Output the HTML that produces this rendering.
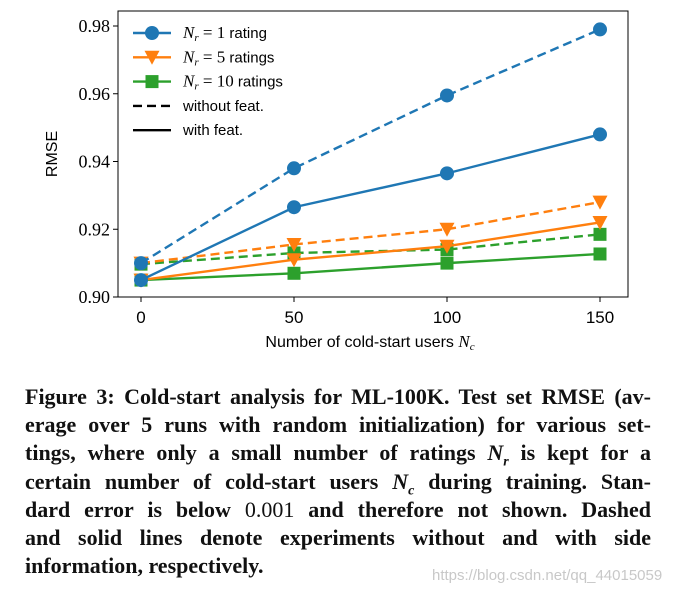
<!DOCTYPE html>
<html><head><meta charset="utf-8"><style>
body{margin:0;background:#fff;width:684px;height:594px;overflow:hidden;position:relative}
.cap{position:absolute;left:25px;width:626px;font:bold 22px "Liberation Serif",serif;color:#111;text-align:justify;text-align-last:justify;white-space:nowrap;line-height:24px}
.cap.last{text-align-last:left}
.wm{position:absolute;left:432px;top:567px;font:15px "Liberation Sans",sans-serif;color:#c8c8c8}
</style></head><body>
<svg width="684" height="380" style="position:absolute;left:0;top:0">
<g id="grid"></g>
<g id="series"></g>
<rect x="118" y="11" width="510" height="286" fill="none" stroke="#000" stroke-width="1"/>
<g id="axes" font-family="Liberation Serif,serif" font-size="18"></g>
<text x="370" y="347" text-anchor="middle" font-family="Liberation Sans,sans-serif" font-size="16">Number of cold-start users <tspan font-family="Liberation Serif,serif" font-style="italic" font-size="17">N</tspan><tspan font-family="Liberation Serif,serif" font-style="italic" font-size="11" dy="3">c</tspan></text>
<text transform="translate(57,154) rotate(-90)" text-anchor="middle" font-family="Liberation Sans,sans-serif" font-size="16">RMSE</text>
<g id="legend" font-family="Liberation Sans,sans-serif" font-size="15"></g>
</svg>
<div class="cap" style="top:385px">Figure 3: Cold-start analysis for ML-100K. Test set RMSE (av-</div>
<div class="cap" style="top:413px">erage over 5 runs with random initialization) for various set-</div>
<div class="cap" style="top:441px">tings, where only a small number of ratings <i>N<sub style="font-size:14px">r</sub></i> is kept for a</div>
<div class="cap" style="top:470px">certain number of cold-start users <i>N<sub style="font-size:14px">c</sub></i> during training. Stan-</div>
<div class="cap" style="top:498px">dard error is below <span style="font-weight:normal">0.001</span> and therefore not shown. Dashed</div>
<div class="cap" style="top:526px">and solid lines denote experiments without and with side</div>
<div class="cap last" style="top:554px">information, respectively.</div>
<div class="wm">https://blog.csdn.net/qq_44015059</div>
<script>
const xCats=[0,50,100,150];
const yTicks=[0.90,0.92,0.94,0.96,0.98];
const yTickLabels=["0.90","0.92","0.94","0.96","0.98"];
const blueDashed=[0.910,0.938,0.9595,0.979];
const blueSolid=[0.905,0.9265,0.9365,0.948];
const orangeDashed=[0.910,0.9155,0.920,0.928];
const orangeSolid=[0.905,0.911,0.915,0.922];
const greenDashed=[0.9097,0.913,0.914,0.9185];
const greenSolid=[0.905,0.907,0.910,0.9127];
const NS="http://www.w3.org/2000/svg";
function X(v){return 141+(v-0)/150*459;}
function Y(v){return 297-(v-0.90)/0.08*271;}
function mk(t,a,p){const e=document.createElementNS(NS,t);for(const k in a)e.setAttribute(k,a[k]);p.appendChild(e);return e;}
const ax=document.getElementById('axes');
xCats.forEach(v=>{
 const l=mk('line',{x1:X(v),x2:X(v),y1:297,y2:302,stroke:'#000'},ax);
 
 
 const t=mk('text',{x:X(v),y:323,'text-anchor':'middle','font-family':'Liberation Sans,sans-serif','font-size':'17'},ax);t.textContent=v;
 
 
});
yTicks.forEach((v,i)=>{
 const l=mk('line',{x1:113,x2:118,y1:Y(v),y2:Y(v),stroke:'#000'},ax);
 
 
 const t=mk('text',{x:110,y:Y(v)+6,'text-anchor':'end'},ax);t.textContent=yTickLabels[i];
 
 
});
const sg=document.getElementById('series');
function marker(shape,x,y,c,p){
 let e;
 if(shape==='o')e=mk('circle',{cx:x,cy:y,r:7,fill:c},p);
 else if(shape==='v')e=mk('path',{d:`M${x-7.5},${y-6.5} L${x+7.5},${y-6.5} L${x},${y+7.5} Z`,fill:c},p);
 else e=mk('rect',{x:x-6.5,y:y-6.5,width:13,height:13,fill:c},p);
 return e;
}
function series(vals,c,shape,dashed,name){
 const g=mk('g',{},sg);
 
 
 const pts=vals.map((v,i)=>X(xCats[i])+','+Y(v)).join(' ');
 mk('polyline',{points:pts,fill:'none',stroke:c,'stroke-width':2.4,'stroke-dasharray':dashed?'9,5':'none'},g);
 vals.forEach((v,i)=>{const m=marker(shape,X(xCats[i]),Y(v),c,g);
  
  });
}
series(greenSolid,'#2ca02c','s',false,'green-solid-series');
series(greenDashed,'#2ca02c','s',true,'green-dashed-series');
series(orangeSolid,'#ff7f0e','v',false,'orange-solid-series');
series(orangeDashed,'#ff7f0e','v',true,'orange-dashed-series');
series(blueSolid,'#1f77b4','o',false,'blue-solid-series');
series(blueDashed,'#1f77b4','o',true,'blue-dashed-series');
const lg=document.getElementById('legend');
const items=[['#1f77b4','o',false,'= 1 rating'],['#ff7f0e','v',false,'= 5 ratings'],['#2ca02c','s',false,'= 10 ratings'],['#000',null,true,'without feat.'],['#000',null,false,'with feat.']];
items.forEach((it,i)=>{
 const y=33+i*24.3;
 const g=mk('g',{},lg);
 
 
 mk('line',{x1:133,x2:171,y1:y,y2:y,stroke:it[0],'stroke-width':2.4,'stroke-dasharray':it[2]?'9,5':'none'},g);
 if(it[1])marker(it[1],152,y,it[0],g);
 const t=mk('text',{x:183,y:y+5},g);
 if(it[1]){t.innerHTML='<tspan font-family="Liberation Serif,serif" font-style="italic" font-size="17">N</tspan><tspan font-family="Liberation Serif,serif" font-style="italic" font-size="11" dy="3">r</tspan><tspan dy="-3" font-family="Liberation Serif,serif" font-size="17"> = </tspan>'+it[3].replace('= ','').replace(/^(\d+)/,'<tspan font-family="Liberation Serif,serif" font-size="17">$1</tspan>');}
 else t.textContent=it[3];
});
</script>
</body></html>
